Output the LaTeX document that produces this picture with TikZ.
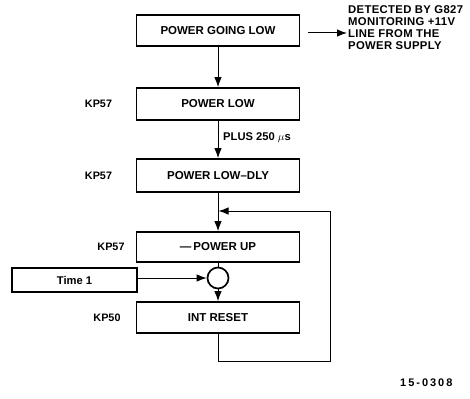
\documentclass[tikz,border=0pt]{standalone}
\usepackage{fontspec}
\setmainfont{Liberation Sans}
\usetikzlibrary{arrows.meta}
\begin{document}
\begin{tikzpicture}[x=1pt,y=-1pt,
  box/.style={draw,line width=1.7pt,minimum width=163pt,inner sep=0pt,font=\bfseries\fontsize{11.5}{13}\selectfont},
  lbl/.style={font=\bfseries\fontsize{10.8}{12}\selectfont,inner sep=0pt},
  tip/.tip={Latex[length=10pt,width=7.5pt]},
  conn/.style={line width=1pt,-tip},
  wire/.style={line width=1pt}]
\useasboundingbox (0,0) rectangle (470,398);
\node[box,minimum height=31pt] (b1) at (218,30.5) {POWER GOING LOW};
\node[box,minimum height=32pt] (b2) at (218,104) {POWER LOW};
\node[box,minimum height=33pt] (b3) at (218,175.5) {POWER LOW--DLY};
\node[box,minimum height=30pt] (b4) at (218,247) {---\,POWER UP};
\node[draw,circle,line width=1.7pt,minimum size=21pt,inner sep=0pt] (c) at (218,278) {};
\node[box,minimum height=31pt] (b5) at (218,317.5) {INT RESET};
\node[draw,line width=1.7pt,minimum width=125pt,minimum height=24pt,inner sep=0pt,font=\fontsize{11.2}{12}\selectfont\bfseries] (t1) at (74.5,280) {Time 1};
\node[lbl] (k1) at (98.5,104) {KP57};
\node[lbl] (k2) at (98.5,175.5) {KP57};
\node[lbl] (k3) at (111,247) {KP57};
\node[lbl] (k4) at (107,317.5) {KP50};
\node[lbl,anchor=west,font=\bfseries\fontsize{11.2}{12}\selectfont] (plus) at (223,138) {PLUS 250 $\mu$s};
\node[lbl,anchor=north west,align=left,font=\bfseries\fontsize{11.3}{12}\selectfont\addfontfeatures{LetterSpace=3}] (det) at (348,5.5) {DETECTED BY G827\\MONITORING +11V\\LINE FROM THE\\POWER SUPPLY};
\node[lbl,anchor=west,font=\bfseries\fontsize{11}{12}\selectfont\addfontfeatures{LetterSpace=18}] (fig) at (400,383) {15-0308};
\coordinate (a0) at (308,33);
\coordinate (a1) at (347,33);
\draw[conn] (a0) -- (a1);
\draw[conn] (b1) -- (b2);
\draw[conn] (b2) -- (b3);
\draw[conn] (b3) -- (b4);
\draw[wire] (b4) -- (c);
\draw[conn] (c) -- (b5);
\draw[conn] (t1.east |- c) -- (c);
\coordinate (j) at (218.5,211);
\draw[wire] (b5.south) -- (218,361) -- (330,361) -- (330,211) -- (226,211);
\draw[conn] (330,211) -- (j);
\end{tikzpicture}
\end{document}
